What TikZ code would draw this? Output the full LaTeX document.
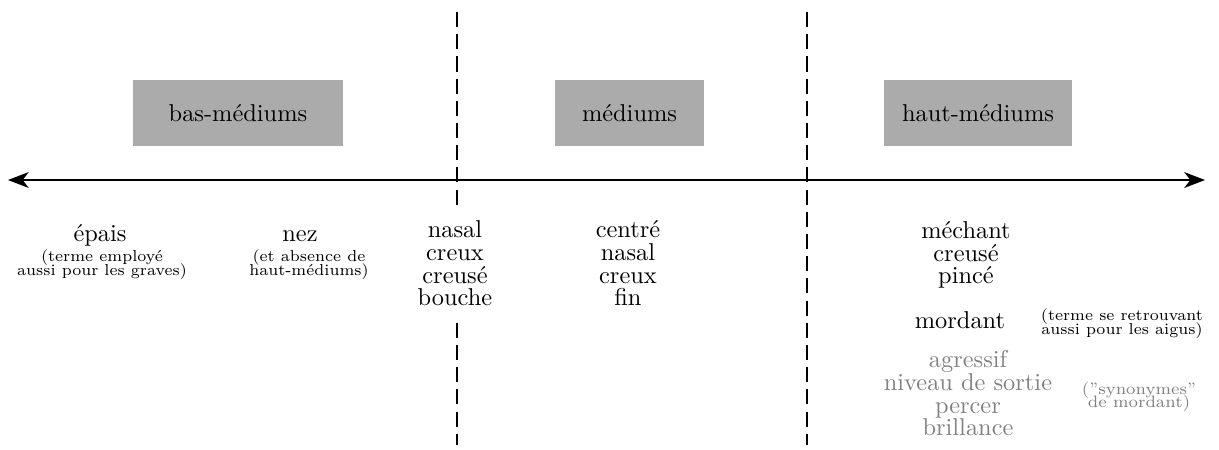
\documentclass[tikz,border=0pt]{standalone}
\usepackage{fontspec}
\usepackage{tikz}
\usetikzlibrary{arrows.meta,positioning}
\definecolor{gristitre}{gray}{0.67}
\definecolor{grissyn}{gray}{0.5}
\newcommand{\lignesserrees}{\setlength{\lineskiplimit}{-10pt}}

\begin{document}
\begin{tikzpicture}[
  zone/.style={fill=gristitre, minimum height=0.951cm, inner sep=0pt, font=\fontsize{10}{12}\selectfont},
  mot/.style={align=center, anchor=base, inner sep=0pt, font=\fontsize{10}{9.4}\selectfont\lignesserrees},
  note/.style={align=center, anchor=base, inner sep=0pt, font=\fontsize{6.5}{5.7}\selectfont\lignesserrees},
  separation/.style={semithick, dash pattern=on 6.2pt off 2.9pt},
  synonyme/.style={text=grissyn},
  pointe/.tip={Stealth[length=8.5pt,width=6.5pt,inset=2.5pt]}
]
  \useasboundingbox (0,0) rectangle (17.565,6.484);
  % axe
  \coordinate (gauche) at (0.115,3.890);
  \coordinate (droite) at (17.363,3.890);
  \draw[thick,pointe-pointe] (gauche) -- (droite);
  % limites entre zones
  \coordinate (lim1h) at (6.585,6.311);
  \coordinate (lim1b) at (6.585,0.072);
  \coordinate (lim2h) at (11.628,6.311);
  \coordinate (lim2b) at (11.628,0.072);
  \draw[separation] (lim1h) -- (lim1b);
  \draw[separation] (lim2h) -- (lim2b);
  % zones
  \node[zone, minimum width=3.026cm] (bas) at (3.429,4.856) {bas-médiums};
  \node[zone, minimum width=2.147cm] (med) at (9.071,4.856) {médiums};
  \node[zone, minimum width=2.709cm] (haut) at (14.092,4.856) {haut-médiums};
  % bas-mediums (base = derniere ligne)
  \node[mot] (epais) at (1.441,3.000) {épais};
  \node[note] (epaisnote) at (1.470,2.520) {(terme employé\\aussi pour les graves)};
  \node[mot] (nez) at (4.323,3.000) {nez};
  \node[note] (neznote) at (4.452,2.520) {(et absence de\\haut-médiums)};
  % frontiere bas / medium
  \node[mot, fill=white, inner sep=4pt] (nasal) at (6.556,2.075) {nasal\\creux\\creusé\\bouche};
  % mediums
  \node[mot] (centre) at (9.049,2.075) {centré\\nasal\\creux\\fin};
  % haut-mediums
  \node[mot] (mechant) at (13.919,2.392) {méchant\\creusé\\pincé};
  \node[mot] (mordant) at (13.833,1.744) {mordant};
  \node[note] (mordantnote) at (16.167,1.671) {(terme se retrouvant\\aussi pour les aigus)};
  \node[mot, synonyme] (agressif) at (13.948,0.202) {agressif\\niveau de sortie\\percer\\brillance};
  \node[note, synonyme, font=\fontsize{6.8}{5.7}\selectfont\lignesserrees] (synnote) at (16.412,0.605) {(''synonymes''\\de mordant)};
\end{tikzpicture}
\end{document}
